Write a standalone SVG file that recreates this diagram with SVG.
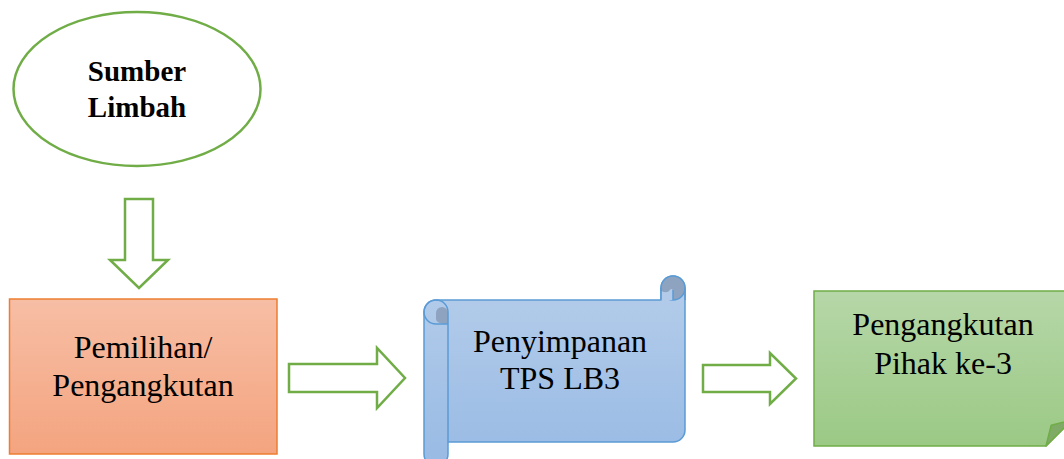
<svg xmlns="http://www.w3.org/2000/svg" width="1064" height="459" viewBox="0 0 1064 459">
<style>
.arrow{fill:#ffffff;stroke:#70ad47;stroke-width:2.5;stroke-linejoin:miter}
.t{font-family:"Liberation Serif","Times New Roman",serif;font-size:32px;fill:#000;text-anchor:middle}
.tb{font-family:"Liberation Serif","Times New Roman",serif;font-size:29px;font-weight:bold;fill:#000;text-anchor:middle}
.scroll{stroke:#5b9bd5;stroke-width:1.5;stroke-linejoin:round}
.dark{fill:#8ea3bf}
</style>
<defs>
<linearGradient id="gOrange" x1="0" y1="0" x2="0" y2="1">
<stop offset="0" stop-color="#f7bea5"/>
<stop offset="1" stop-color="#f4a47f"/>
</linearGradient>
<linearGradient id="gBlue" x1="0" y1="0" x2="0" y2="1">
<stop offset="0" stop-color="#b5cdea"/>
<stop offset="1" stop-color="#98bae4"/>
</linearGradient>
<linearGradient id="gGreen" x1="0" y1="0" x2="0" y2="1">
<stop offset="0" stop-color="#b6d7a8"/>
<stop offset="1" stop-color="#9bc985"/>
</linearGradient>
</defs>

<g id="connectors">
<path class="arrow" d="M125,199 L153,199 L153,260 L168,260 L139,288 L110,260 L125,260 Z"/>
<path class="arrow" d="M289,364 L377,364 L377,348 L405,378 L377,408 L377,392 L289,392 Z"/>
<path class="arrow" d="M703,365 L770,365 L770,353 L796,378.5 L770,404 L770,392 L703,392 Z"/>
</g>

<g id="node-sumber">
<ellipse cx="137" cy="89" rx="123.5" ry="77" fill="#ffffff" stroke="#70ad47" stroke-width="2.5"/>
<text class="tb" x="137" y="81">Sumber</text>
<text class="tb" x="137" y="117">Limbah</text>
</g>

<g id="node-pemilihan">
<rect x="9.5" y="299" width="267.5" height="155" fill="url(#gOrange)" stroke="#ed7d31" stroke-width="1.5"/>
<text class="t" x="143" y="358">Pemilihan/</text>
<text class="t" x="143" y="396">Pengangkutan</text>
</g>

<g id="node-penyimpanan">
<path class="scroll" fill="url(#gBlue)" d="M424,312 A12,12 0 0 1 436,300 L661,300 L661,288 A12,12 0 0 1 685,288 L685,430 A12,12 0 0 1 673,442 L448,442 L448,454 A12,12 0 0 1 424,454 Z"/>
<path class="dark" d="M436,319 L436,313 A6,6 0 0 1 448,313 L448,324 Q436,324 436,319 Z"/>
<path class="scroll" fill="none" d="M424,312 A12,12 0 0 1 448,312 L448,442 M424,312 A12,12 0 0 0 436,324 L448,324"/>
<circle class="dark" cx="673" cy="288" r="12" stroke="#5b9bd5" stroke-width="1.5"/>
<path fill="#b3cbe9" d="M661.5,300 L661.5,291 Q667,294 670,290 A1.6,1.6 0 0 1 673,291 L673,300 Z"/>
<path class="scroll" fill="none" d="M673,290 L673,300 M661,288 L661,300 M685,288 L685,300"/>
<text class="t" x="560" y="352">Penyimpanan</text>
<text class="t" x="560" y="389">TPS LB3</text>
</g>

<g id="node-pengangkutan-pihak">
<path d="M814,291 L1072,291 L1072,420 L1046,446 L814,446 Z" fill="url(#gGreen)" stroke="#70ad47" stroke-width="1.5"/>
<path d="M1046,446 L1051.2,425.2 L1072,420 Z" fill="#7fab67" stroke="#70ad47" stroke-width="1.5" stroke-linejoin="round"/>
<text class="t" x="943" y="335">Pengangkutan</text>
<text class="t" x="943" y="374">Pihak ke-3</text>
</g>
</svg>
